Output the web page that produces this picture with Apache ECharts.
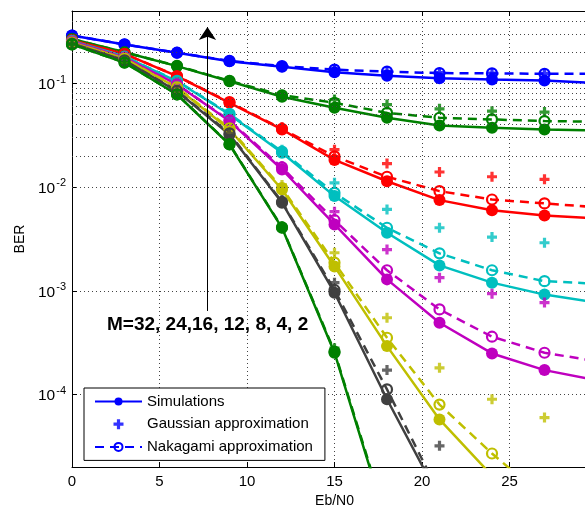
<!DOCTYPE html>
<html><head><meta charset="utf-8">
<script src="https://cdn.jsdelivr.net/npm/echarts@6/dist/echarts.min.js"></script>
<style>html,body{margin:0;padding:0;background:#fff}#c{width:585px;height:509px}</style>
</head><body><div id="c"></div>
<script>
// Eb/N0 (dB) sample points
const ebn0 = [0, 3, 6, 9, 12, 15, 18, 21, 24, 27, 30];

// Simulations
const sim32 = [0.29, 0.238, 0.198, 0.164, 0.145, 0.128, 0.119, 0.112, 0.109, 0.107, 0.101];
const sim24 = [0.268, 0.2, 0.147, 0.105, 0.0744, 0.0584, 0.0467, 0.0394, 0.0374, 0.036, 0.0352];
const sim16 = [0.262, 0.193, 0.1175, 0.0651, 0.036, 0.0183, 0.0114, 0.0075, 0.006, 0.00533, 0.005];
const sim12 = [0.257, 0.182, 0.105, 0.0502, 0.0215, 0.0082, 0.00363, 0.00176, 0.0012, 0.00092, 0.00077];
const sim8  = [0.254, 0.178, 0.0978, 0.0434, 0.0148, 0.00437, 0.00129, 0.000492, 0.000249, 0.000172, 0.000137];
const sim4  = [0.248, 0.174, 0.091, 0.036, 0.0095, 0.00172, 0.000293, 0.0000575, 0.0000165];
const sim2  = [0.243, 0.167, 0.084, 0.0322, 0.00708, 0.00096, 0.00009, 0.00001];
const sim1  = [0.238, 0.159, 0.0783, 0.0258, 0.00405, 0.000253, 0.0000057];

// Gaussian approximation
const gau32 = [0.29, 0.238, 0.198, 0.165, 0.147, 0.136, 0.131, 0.127, 0.126, 0.125];
const gau24 = [0.268, 0.2, 0.148, 0.106, 0.078, 0.07, 0.0626, 0.057, 0.054, 0.053];
const gau16 = [0.262, 0.193, 0.118, 0.066, 0.038, 0.023, 0.0169, 0.014, 0.0126, 0.0119];
const gau12 = [0.257, 0.182, 0.106, 0.052, 0.023, 0.011, 0.0061, 0.00406, 0.0033, 0.00291];
const gau8  = [0.254, 0.178, 0.098, 0.045, 0.016, 0.0058, 0.0025, 0.00134, 0.00094, 0.00077];
const gau4  = [0.248, 0.174, 0.092, 0.037, 0.0105, 0.00233, 0.00055, 0.000181, 0.00009, 0.00006];
const gau2  = [0.243, 0.167, 0.085, 0.033, 0.0075, 0.0012, 0.000172, 0.000032];
const gau1  = [0.238, 0.159, 0.0785, 0.026, 0.0042, 0.00028];

// Nakagami approximation
const nak32 = [0.29, 0.238, 0.198, 0.165, 0.147, 0.136, 0.130, 0.126, 0.125, 0.124, 0.124];
const nak24 = [0.268, 0.2, 0.148, 0.106, 0.077, 0.0651, 0.052, 0.0467, 0.045, 0.0434, 0.0427];
const nak16 = [0.262, 0.193, 0.118, 0.066, 0.0365, 0.0198, 0.0126, 0.00915, 0.0076, 0.00697, 0.0064];
const nak12 = [0.257, 0.182, 0.106, 0.051, 0.022, 0.0088, 0.00406, 0.0023, 0.00158, 0.00124, 0.00117];
const nak8  = [0.254, 0.178, 0.098, 0.044, 0.0155, 0.0048, 0.00158, 0.000662, 0.000361, 0.000253, 0.000209];
const nak4  = [0.248, 0.174, 0.092, 0.037, 0.0098, 0.00187, 0.000353, 0.00008, 0.000027, 0.00001];
const nak2  = [0.243, 0.167, 0.085, 0.033, 0.0072, 0.00102, 0.000112, 0.000011];
const nak1  = [0.238, 0.159, 0.0785, 0.026, 0.0041, 0.00026, 0.000006];

const legendNames = ['Simulations', 'Gaussian approximation', 'Nakagami approximation'];
const annotationText = 'M=32, 24,16, 12, 8, 4, 2';
const arrowX = 7.74, arrowFrom = 6.4e-4, arrowTo = 0.35;

const curves = [
  {sim: sim32, gau: gau32, nak: nak32, color: '#0000ff', legend: true},
  {sim: sim24, gau: gau24, nak: nak24, color: '#008000'},
  {sim: sim16, gau: gau16, nak: nak16, color: '#ff0000'},
  {sim: sim12, gau: gau12, nak: nak12, color: '#00bfbf'},
  {sim: sim8,  gau: gau8,  nak: nak8,  color: '#bf00bf'},
  {sim: sim4,  gau: gau4,  nak: nak4,  color: '#bfbf00'},
  {sim: sim2,  gau: gau2,  nak: nak2,  color: '#404040'},
  {sim: sim1,  gau: gau1,  nak: nak1,  color: '#008000'}
];

const pts = arr => arr.map((v, i) => [ebn0[i], v]);
const PLUS = 'path://M3.4,0H6.6V3.4H10V6.6H6.6V10H3.4V6.6H0V3.4H3.4Z';
const FONT = "'Liberation Sans', Arial, Helvetica, sans-serif";
const GRIDLINE = {color: '#444', type: [1, 3], width: 1};

const minorVals = [];
for (let e = -5; e <= -1; e++) for (let m = 2; m <= 9; m++) {
  const v = m * Math.pow(10, e);
  if (v > 2.01e-5 && v < 0.499) minorVals.push(v);
}

const series = [];
series.push({
  type: 'line', data: [], silent: true, z: 0, animation: false,
  markLine: {silent: true, symbol: 'none', animation: false, label: {show: false},
    lineStyle: GRIDLINE,
    data: minorVals.map(v => ({yAxis: v}))}
});
curves.forEach((c, k) => {
  series.push({
    name: c.legend ? legendNames[0] : 'sim' + k,
    type: 'line', data: pts(c.sim), symbol: 'circle', symbolSize: 12, showAllSymbol: true,
    lineStyle: {color: c.color, width: 2.5}, itemStyle: {color: c.color}, z: 3
  });
  series.push({
    name: c.legend ? legendNames[1] : 'gau' + k,
    type: 'scatter', data: pts(c.gau), symbol: PLUS, symbolSize: 10,
    itemStyle: {color: c.color}, z: 4
  });
  series.push({
    name: c.legend ? legendNames[2] : 'nak' + k,
    type: 'line', data: pts(c.nak), symbol: 'circle', symbolSize: 10, showAllSymbol: true,
    lineStyle: {color: c.color, width: 2.5, type: [9, 6]},
    itemStyle: {color: 'rgba(0,0,0,0)', borderColor: c.color, borderWidth: 2.2}, z: 4
  });
});
series.push({
  type: 'line', data: [], silent: true, z: 5, animation: false,
  markLine: {silent: true, animation: false, label: {show: false},
    lineStyle: {color: '#000', type: 'solid', width: 1},
    symbol: ['none', 'arrow'], symbolSize: 13,
    data: [[{coord: [arrowX, arrowFrom]}, {coord: [arrowX, arrowTo]}]]}
});

const chart = echarts.init(document.getElementById('c'), null, {renderer: 'canvas'});
chart.setOption({
  animation: false,
  backgroundColor: '#fff',
  textStyle: {fontFamily: FONT},
  grid: {left: 72, top: 11, width: 525, height: 456, show: false, containLabel: false, outerBoundsMode: 'none'},
  legend: {
    data: legendNames, orient: 'vertical', left: 84, top: 388, selectedMode: false,
    backgroundColor: '#fff', borderColor: '#000', borderWidth: 1, borderRadius: 0,
    padding: [6, 12, 6, 10], itemWidth: 47, itemHeight: 10, itemGap: 7.7,
    textStyle: {fontSize: 15, color: '#000', fontFamily: FONT}
  },
  xAxis: [{
    type: 'value', min: 0, max: 30, interval: 5,
    name: 'Eb/N0', nameLocation: 'middle', nameGap: 23,
    nameTextStyle: {fontSize: 14, color: '#000', fontFamily: FONT},
    axisLine: {show: true, onZero: false, lineStyle: {color: '#000', width: 1}},
    axisTick: {show: true, inside: true, length: 5, lineStyle: {color: '#000'}},
    axisLabel: {fontSize: 15, color: '#000', margin: 7, fontFamily: FONT},
    splitLine: {show: true, lineStyle: GRIDLINE}
  }, {
    type: 'value', min: 0, max: 30, interval: 5, position: 'top',
    axisLine: {show: true, onZero: false, lineStyle: {color: '#000', width: 1}},
    axisTick: {show: true, inside: true, length: 5, lineStyle: {color: '#000'}},
    axisLabel: {show: false}, splitLine: {show: false}
  }],
  yAxis: {
    type: 'log', logBase: 10, min: 2e-5, max: 0.5,
    name: 'BER', nameLocation: 'middle', nameGap: 44,
    nameTextStyle: {fontSize: 14, color: '#000', fontFamily: FONT},
    axisLine: {show: true, onZero: false, lineStyle: {color: '#000', width: 1}},
    axisTick: {show: true, inside: true, length: 5, lineStyle: {color: '#000'}},
    splitLine: {show: true, lineStyle: GRIDLINE},
    axisLabel: {
      margin: 6, color: '#000', fontFamily: FONT,
      formatter: function (v) {
        const l = Math.log10(v), e = Math.round(l);
        if (Math.abs(l - e) > 1e-6) return '';
        return '{b|10}{s|' + e + '}';
      },
      rich: {
        b: {fontSize: 15.5, color: '#000', fontFamily: FONT, verticalAlign: 'bottom'},
        s: {fontSize: 11, color: '#000', fontFamily: FONT, verticalAlign: 'top', padding: [0, 0, 8, 1]}
      }
    }
  },
  graphic: [{
    type: 'text', left: 107, top: 315, z: 100,
    style: {text: annotationText, font: 'bold 19px ' + FONT, fill: '#000'}
  }],
  series: series
});
</script></body></html>
